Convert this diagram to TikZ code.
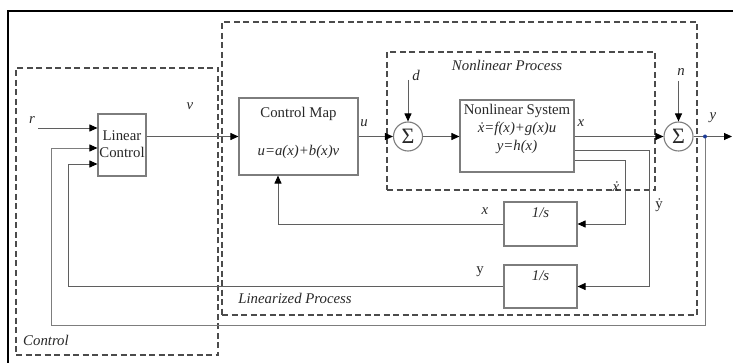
\documentclass[tikz,border=0pt]{standalone}
\usepackage{fontspec}
\setmainfont{Liberation Serif}
\usetikzlibrary{arrows.meta,calc}

\definecolor{wire}{RGB}{95,95,95}
\definecolor{lightwire}{RGB}{125,125,125}
\definecolor{boxline}{RGB}{125,125,125}
\definecolor{dashline}{RGB}{75,75,75}
\definecolor{ink}{RGB}{40,40,40}
\definecolor{tapdot}{RGB}{30,60,150}

\begin{document}
\begin{tikzpicture}[x=1pt,y=-1pt,
  font=\fontsize{14.8}{17}\selectfont,
  every node/.style={text=ink},
  blk/.style={draw=boxline,line width=1.1pt,inner sep=0pt},
  sumnode/.style={draw=boxline,circle,line width=1.1pt,minimum size=29pt,inner sep=0pt,font=\fontsize{22}{22}\selectfont},
  wirel/.style={draw=wire,line width=0.95pt},
  arr/.style={wirel,-{Triangle[length=8pt,width=7pt,color=black]}},
  region/.style={draw=dashline,line width=1.4pt,dash pattern=on 6pt off 3.5pt,inner sep=0pt},
  lbl/.style={inner sep=0pt,font=\fontsize{14.8}{17}\selectfont\itshape},
  txt/.style={inner sep=0pt},
  ]
\useasboundingbox (0,0) rectangle (733,363);

% page frame
\draw[line width=2.2pt,black] (8,363) -- (8,11) -- (733,11);

% dashed regions
\node[region,minimum width=202pt,minimum height=287pt] (ctrlreg) at (117,211.5) {};
\node[region,minimum width=475pt,minimum height=293pt] (linreg) at (459.5,168.5) {};
\node[region,minimum width=268pt,minimum height=138pt] (nlreg) at (521,121) {};
\node[lbl] (ctrllab) at (46,340) {Control};
\node[lbl] (linlab) at (295,298) {Linearized Process};
\node[lbl] (nllab) at (507,65) {Nonlinear Process};

% blocks
\node[blk,minimum width=48pt,minimum height=62pt] (lc) at (122,145) {};
\node[txt,align=center,font=\fontsize{14.8}{17}\selectfont] (lct) at (122,144) {Linear\\Control};

\node[blk,minimum width=119pt,minimum height=77pt] (cm) at (298.5,136.5) {};
\node[txt] (cmt) at (298.5,114) {Control Map};
\node[lbl] (cme) at (298.5,152) {u=a(x)+b(x)v};

\node[sumnode] (s1) at (408,136.5) {Σ};

\node[blk,minimum width=114pt,minimum height=72pt] (ns) at (517,136) {};
\node[txt,align=center,font=\fontsize{14.8}{18}\selectfont] (nst) at (517,128.5)
  {Nonlinear System\\\textit{\.{x}=f(x)+g(x)u}\\\textit{y=h(x)}};

\node[sumnode] (s2) at (678.5,136.5) {Σ};

\node[blk,minimum width=73pt,minimum height=44pt] (i1) at (540.5,224) {};
\node[lbl] (i1t) at (540.5,213) {1/s};
\node[blk,minimum width=73pt,minimum height=43pt] (i2) at (540.5,286.5) {};
\node[lbl] (i2t) at (540.5,276) {1/s};

% free ends
\coordinate (rin) at (38,128);
\coordinate (din) at (408,80);
\coordinate (nin) at (678.5,81);
\coordinate (yout) at (732,136.5);
\coordinate (tap) at (705,136.5);
\coordinate (fbcorner) at (51,325);

% forward path
\draw[arr] (rin) -- (rin -| lc.west);
\draw[arr] (lc.east |- cm.west) -- (cm.west);
\draw[arr] (cm.east) -- (s1.west);
\draw[arr] (s1.east) -- (s1.east -| ns.west);
\draw[arr] (ns.east |- s2.west) -- (s2.west);
\draw[arr] (s2.east) -- (yout);
\draw[arr] (din) -- (s1.north);
\draw[arr] (nin) -- (s2.north);

% derivative outputs into the integrators
\draw[arr] ($(ns.east)+(0,24)$) -| ($(i1.east)+(48,0)$) -- (i1.east);
\draw[arr] ($(ns.east)+(0,14)$) -| ($(i2.east)+(72,0)$) -- (i2.east);

% feedback paths
\draw[arr] (i1.west) -| ([xshift=-20.5pt]cm.south);
\draw[arr] (i2.west) -| ($(lc.west)+(-29,19)$) -- ($(lc.west)+(0,19)$);
\draw[arr,draw=lightwire] (tap) |- (fbcorner) |- ($(lc.west)+(0,3)$);
\fill[tapdot] (tap) circle (2pt);

% signal labels
\node[lbl] (rl) at (32,120) {r};
\node[lbl] (vl) at (190,106) {v};
\node[lbl] (ul) at (364,123) {u};
\node[lbl] (dl) at (416,75) {d};
\node[lbl] (xl) at (581,123) {x};
\node[lbl] (nl) at (681,72) {n};
\node[lbl] (yl) at (713,118) {y};
\node[lbl] (xdl) at (616,187) {\.{x}};
\node[txt] (ydl) at (659,205) {\.{y}};
\node[lbl] (xfl) at (485,211) {x};
\node[txt] (yfl) at (480,272) {y};
\end{tikzpicture}
\end{document}
